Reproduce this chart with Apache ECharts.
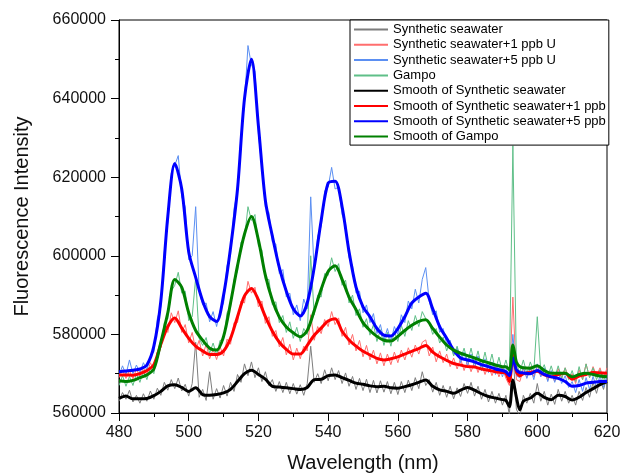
<!DOCTYPE html>
<html>
<head>
<meta charset="utf-8">
<script src="https://cdn.jsdelivr.net/npm/echarts@6/dist/echarts.min.js"></script>
<style>html,body{margin:0;padding:0;background:#fff}#c{width:622px;height:475px}</style>
</head>
<body>
<div id="c"></div>
<script>
const seriesNames = ["Synthetic seawater","Synthetic seawater+1 ppb U","Synthetic seawater+5 ppb U","Gampo",
  "Smooth of Synthetic seawater","Smooth of Synthetic seawater+1 ppb","Smooth of Synthetic seawater+5 ppb","Smooth of Gampo"];
const xTicks = [480,500,520,540,560,580,600,620];
const yTicks = [560000,580000,600000,620000,640000,660000];

const rawWl = [480,481,482,483,484,485,486,487,488,489,490,491,492,493,494,495,496,497,498,499,
500,501,502,503,504,505,506,507,508,509,510,511,512,513,514,515,516,517,518,519,
520,521,522,523,524,525,526,527,528,529,530,531,532,533,534,535,536,537,538,539,
540,541,542,543,544,545,546,547,548,549,550,551,552,553,554,555,556,557,558,559,
560,561,562,563,564,565,566,567,568,569,570,571,572,573,574,575,576,577,578,579,
580,581,582,583,584,585,586,587,588,589,590,591,592,593,594,595,596,597,598,599,
600,601,602,603,604,605,606,607,608,609,610,611,612,613,614,615,616,617,618,619,620];

const rawSeawater = [563000,565200,563500,565800,562800,564500,562500,564900,563000,565600,563500,566300,564500,567800,565800,568500,566200,568900,565600,567300,
564300,567500,578000,564000,566000,563200,570500,563500,566200,563800,567000,564300,567800,565500,569800,567800,572500,569500,573000,569000,
571500,568000,570500,567000,568500,565500,568000,565200,567800,564900,567500,564800,567200,564500,567500,577000,567800,570000,567500,571000,
568200,571500,568500,570800,567500,570200,566800,569300,566000,568800,565700,568600,565200,568300,565100,568200,565300,568000,564900,567800,
564700,568000,565200,568400,565700,569000,566200,570500,567000,568500,565300,567800,564500,567000,564000,566800,563600,566400,564200,567500,
565000,567800,564300,566800,563500,566000,562800,565500,562500,565000,562000,564500,559500,576000,561000,559000,564500,562500,565000,562500,
567500,563000,565500,562000,564800,562200,566000,563000,565500,562500,564500,562000,565500,563200,566500,564000,567800,565000,568500,566000,569200];

const rawPlus1 = [569000,571000,568800,570800,568700,571200,569300,571500,569800,572800,571000,575500,576500,581500,580500,585500,583000,586000,580500,582500,
577800,580500,576000,578500,574500,577500,573800,576200,573600,576800,574500,578800,577500,583000,583000,588500,588000,593500,590500,592000,
587000,588500,582800,584500,579500,581000,576800,579200,574800,577500,573500,576500,573800,577000,575800,585000,578500,582000,580200,583800,
582000,585800,582500,584200,579500,581800,577300,580000,575800,578500,574300,577200,573500,576000,572500,575300,572000,575000,572300,575500,
572800,576000,573500,576600,574200,577300,575000,578000,578600,574500,576800,573000,575800,572800,575000,571800,574000,571200,573800,570800,
573300,570500,573000,570300,572600,569800,572200,569500,571800,569200,571500,568800,567000,589500,568500,568000,571300,569000,571800,569200,
572000,569300,571000,568300,570500,568000,571300,568800,571500,569000,570000,567500,571000,568500,572500,569000,571800,569500,571500,568800,571500];

const rawPlus5 = [569500,572000,569800,573500,570000,572200,570200,572800,571000,574500,575500,584000,587000,601000,608500,621000,623000,625500,615000,612500,
599000,600000,612500,591000,587500,588000,583200,585800,582000,586000,588000,597500,600500,612000,616500,630500,639000,653500,648500,647000,
631000,622500,612500,611000,603500,603000,595500,596500,589500,590500,585000,587500,583500,589000,586500,615000,596000,605000,607500,616500,
617500,622500,617000,617500,610500,608000,599500,597500,590500,591000,585500,587500,583000,585300,580200,582500,578500,581500,578200,582000,
580000,585000,583000,588500,586500,591500,588000,594000,597000,588500,585000,586000,580500,581500,577500,578500,574800,576500,572800,575500,
572000,575000,571500,574500,570800,573800,570300,573000,569800,572500,569200,572000,568000,580000,569500,569000,571800,568800,571500,568500,
572500,569200,571500,568000,570800,567800,570500,567500,569500,566500,568000,565200,568500,565500,569000,566000,569300,566500,569500,566500,569500];

const rawGampo = [567000,569500,566800,569300,567000,570000,567800,570800,568500,571500,570000,575500,576800,583000,584000,591000,592500,595800,590500,591000,
583500,584500,594500,579000,577200,579200,575200,577800,574800,578500,578500,585500,587000,594000,596000,603500,604500,612500,609000,610500,
602500,601500,593800,594000,587500,588300,583000,584800,580500,583200,579000,581800,578200,581500,580000,600000,585000,590000,589500,595500,
595000,599500,596000,598000,592500,593800,588000,590000,584800,586500,581800,584000,579800,582500,578200,581200,577200,580500,577000,580700,
578200,582300,579500,583500,581000,584800,582000,585800,584000,583000,580000,581500,577800,579300,575800,578000,574500,577000,573800,576500,
573000,576500,572500,575800,571800,575500,571500,575000,570800,574200,570500,573500,570000,628000,572500,570300,573500,570000,573000,570500,
584500,570500,572300,569300,572000,569000,572000,568800,571500,568500,570800,568000,571800,568500,572500,569000,571500,568500,571000,568000,570500];

const smoothWl = [480,482,484,486,488,490,492,494,496,498,500,502,504,506,508,510,512,514,516,518,
520,522,524,526,528,530,532,534,536,538,540,542,544,546,548,550,552,554,556,558,
560,562,564,566,568,570,572,574,576,578,580,582,584,586,588,590,591,592,593,594,595,596,
598,600,602,604,606,608,610,612,614,616,618,620];

const smoothSeawater = [563700,564300,563600,563600,563700,564400,565500,566900,567200,566500,565500,566400,564700,564500,564700,565100,566000,568000,570000,570900,
569800,568600,566800,566600,566400,566200,566000,566500,568500,568600,569500,569700,569000,568300,567600,567300,566900,566700,566800,566400,
566300,566700,567200,567800,568400,566800,565900,565500,565000,565800,566500,565800,564900,564200,563800,563400,563200,561600,568400,564000,560800,563000,
563800,565000,564000,563400,564500,564200,563300,564000,565200,566200,567200,568000];

const smoothPlus1 = [569700,569700,569600,570000,570800,572300,577500,582000,584200,581600,579000,577000,575800,574900,574900,575800,579000,584500,589800,591700,
588800,584500,580800,578000,576200,575000,575000,577200,579800,581600,583400,584000,580800,578600,577000,575700,574800,573900,573500,573800,
574300,575000,575700,576400,577200,575500,574300,573400,572600,572200,571800,571700,571200,570900,570500,570300,570100,568000,575000,570500,569500,570000,
570300,570600,569700,569200,569800,570100,568600,569400,569800,570300,570200,570100];

const smoothPlus5 = [570500,570700,570900,571200,572200,577000,588500,610000,623500,617000,601000,594500,588500,584500,583300,590000,602000,617000,640000,650000,
633000,614000,605000,597000,591000,586500,584700,588000,597000,609000,618500,619000,612500,601000,592000,587000,584500,581500,579800,579600,
581500,584500,588000,589500,590500,586500,582000,579000,576000,574000,573500,573000,572300,571800,571200,570800,570500,569500,574000,571000,570300,570200,
570000,570800,569800,569200,568800,568000,566800,567000,567600,567800,568000,568000];

const smoothGampo = [568200,568000,568300,569000,569700,571200,578000,585500,594000,592000,585500,581000,578500,576500,576000,579500,588000,597500,605500,610000,
604000,595000,588700,584400,581900,580400,579400,581000,586000,591500,596000,597500,594000,589500,586300,583000,581000,579500,578500,578300,
579500,581000,582300,583300,583700,581500,579300,577300,576000,575200,574600,574000,573300,572800,572200,571800,571800,571000,577300,573000,571800,571500,
571400,572000,570800,570100,570100,570100,569200,569800,570100,569800,569400,569200];

const lineColors = ["#7d7d7d","#ff6e6e","#5b8ff2","#5fbf88","#000000","#ff0000","#0000ff","#008000"];

function zip(xs, ys){ return xs.map((x,i)=>[x, ys[i]]); }

const rawSets = [rawSeawater, rawPlus1, rawPlus5, rawGampo];
const smoothSets = [smoothSeawater, smoothPlus1, smoothPlus5, smoothGampo];

const series = [];
rawSets.forEach((d,i)=>{
  series.push({name: seriesNames[i], type:'line', data: zip(rawWl, d), symbol:'none', showSymbol:false,
    lineStyle:{width:1, color: lineColors[i]}, itemStyle:{color: lineColors[i]}, z: 2, silent:true});
});
smoothSets.forEach((d,i)=>{
  series.push({name: seriesNames[i+4], type:'line', data: zip(smoothWl, d), symbol:'none', showSymbol:false,
    smooth: 0.3, lineStyle:{width:3, color: lineColors[i+4]}, itemStyle:{color: lineColors[i+4]}, z: 3, silent:true});
});

const font = "'Liberation Sans', Arial, sans-serif";
const chart = echarts.init(document.getElementById('c'), null, {renderer:'canvas'});
chart.setOption({
  animation:false,
  backgroundColor:'#fff',
  grid:{left:119, right:15, top:20, bottom:62, show:true, borderColor:'#000', borderWidth:1,
    backgroundColor:'transparent', containLabel:false, outerBoundsMode:'none'},
  legend:{
    orient:'vertical', left:350, top:20,
    backgroundColor:'#fff', borderColor:'#000', borderWidth:1, borderRadius:0,
    padding:[3,3,2,3], itemWidth:34, itemHeight:14, itemGap:2.3,
    itemStyle:{opacity:0},
    textStyle:{fontSize:13, color:'#000', fontFamily:font},
    data: seriesNames,
    z: 10
  },
  xAxis:{
    type:'value', min:xTicks[0], max:xTicks[xTicks.length-1], interval:20,
    name:'Wavelength (nm)', nameLocation:'middle', nameGap:40,
    nameTextStyle:{fontSize:20, color:'#111', fontFamily:font},
    axisLine:{show:true, lineStyle:{color:'#000', width:1}},
    axisTick:{show:true, inside:false, length:8, lineStyle:{color:'#000'}},
    minorTick:{show:true, splitNumber:2, length:4, lineStyle:{color:'#000'}},
    splitLine:{show:false},
    axisLabel:{fontSize:16, color:'#111', fontFamily:font, margin:12}
  },
  yAxis:{
    type:'value', min:yTicks[0], max:yTicks[yTicks.length-1], interval:20000,
    name:'Fluorescence Intensity', nameLocation:'middle', nameGap:87, nameRotate:90,
    nameTextStyle:{fontSize:20, color:'#111', fontFamily:font},
    axisLine:{show:true, lineStyle:{color:'#000', width:1}},
    axisTick:{show:true, inside:false, length:8, lineStyle:{color:'#000'}},
    minorTick:{show:true, splitNumber:2, length:4, lineStyle:{color:'#000'}},
    splitLine:{show:false},
    axisLabel:{fontSize:16, color:'#111', fontFamily:font, margin:13, formatter: v => String(v)}
  },
  series: series
});
</script>
</body>
</html>
